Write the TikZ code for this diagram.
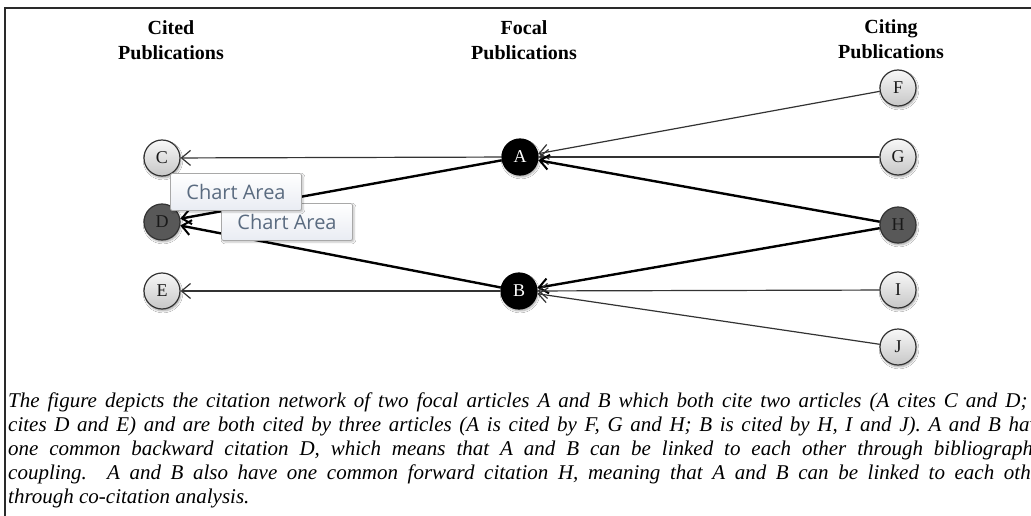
\documentclass[tikz,border=0pt]{standalone}
\usepackage{fontspec}
\setmainfont{Liberation Serif}
\newfontfamily\tipfont{Open Sans}
\usetikzlibrary{arrows.meta,shadows.blur}
\definecolor{framecol}{HTML}{2A2A2A}
\definecolor{nodeedge}{HTML}{333333}
\definecolor{darknode}{HTML}{585858}
\definecolor{tiptext}{HTML}{5A6B80}
\definecolor{tipedge}{HTML}{A8A8A8}
\definecolor{tipbottom}{HTML}{E9ECF3}
\begin{document}
\begin{tikzpicture}[x=1pt,y=-1pt,
  pub/.style={circle,minimum size=36pt,inner sep=0pt,draw=nodeedge,line width=1.2pt,
    top color=black!3,bottom color=black!22,text=black!90,
    font=\fontsize{18}{18}\selectfont,
    blur shadow={shadow xshift=1pt,shadow yshift=-2pt,shadow blur steps=6,shadow opacity=35}},
  darkpub/.style={pub,top color=darknode,bottom color=darknode,fill=darknode,text=black!90},
  focal/.style={pub,draw=black,top color=black,bottom color=black,fill=black,text=white},
  hdr/.style={align=center,font=\fontsize{20}{25}\selectfont\bfseries,inner sep=0pt},
  thinedge/.style={line width=1.2pt,draw=black!80,-{Straight Barb[length=9pt,width=15pt,line width=1.2pt]}},
  thickedge/.style={line width=2.4pt,draw=black,-{Straight Barb[length=9pt,width=15pt,line width=2pt]}},
  tip/.style={draw=tipedge,line width=0.8pt,rounded corners=2pt,top color=white,bottom color=tipbottom,
    text=tiptext,font=\tipfont\fontsize{20}{20}\selectfont,minimum width=131pt,minimum height=37pt,inner sep=0pt,
    blur shadow={shadow xshift=1.5pt,shadow yshift=-1.5pt,shadow blur steps=4,shadow opacity=25}},
  captxt/.style={anchor=base west,inner sep=0pt,font=\itshape\fontsize{21}{24}\selectfont}
]
\clip (0,0) rectangle (1031,516);
\fill[white] (0,0) rectangle (1031,516);
\draw[line width=2pt,framecol] (5,516) -- (5,8) -- (1031,8);

% headers
\node[hdr] (hcited) at (171,40) {Cited\\Publications};
\node[hdr] (hfocal) at (524,40) {Focal\\Publications};
\node[hdr] (hciting) at (891,39) {Citing\\Publications};

% nodes
\node[pub] (C) at (162,158) {C};
\node[darkpub] (D) at (162,222) {D};
\node[pub] (E) at (162,291) {E};
\node[focal] (A) at (520,157) {A};
\node[focal] (B) at (519,291) {B};
\node[pub] (F) at (898,88) {F};
\node[pub] (G) at (898,157) {G};
\node[darkpub] (H) at (898,225) {H};
\node[pub] (I) at (898,290) {I};
\node[pub] (J) at (898,347) {J};

% edges
\draw[thinedge] (A) -- (C);
\draw[thickedge] (A) -- (D);
\draw[thickedge] (B) -- (D);
\draw[thinedge] (B) -- (E);
\draw[thinedge] (F) -- (A);
\draw[thinedge] (G) -- (A);
\draw[thickedge] (H) -- (A);
\draw[thickedge] (H) -- (B);
\draw[thinedge] (I) -- (B);
\draw[thinedge] (J) -- (B);

% tooltips
\node[tip] (tip2) at (287,222) {Chart Area};
\node[tip] (tip1) at (236,192) {Chart Area};

% caption
\node[captxt] (l1) at (8,407) {\hbox to 1040pt{The figure depicts the citation network of two focal articles A and B which both cite two articles (A cites C and D; B}};
\node[captxt] (l2) at (8,431) {\hbox to 1040pt{cites D and E) and are both cited by three articles (A is cited by F, G and H; B is cited by H, I and J). A and B have}};
\node[captxt] (l3) at (8,455) {\hbox to 1040pt{one common backward citation D, which means that A and B can be linked to each other through bibliographic}};
\node[captxt] (l4) at (8,479) {\hbox to 1040pt{coupling. A and B also have one common forward citation H, meaning that A and B can be linked to each other}};
\node[captxt] (l5) at (8,503) {through co-citation analysis.};
\end{tikzpicture}
\end{document}
